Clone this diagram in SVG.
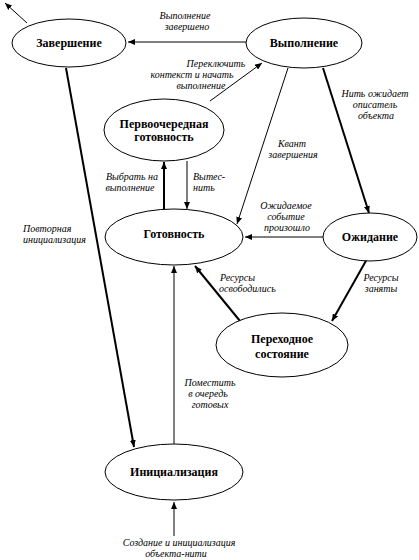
<svg xmlns="http://www.w3.org/2000/svg" width="419" height="560" viewBox="0 0 419 560">
<defs>
<marker id="arr" markerUnits="userSpaceOnUse" markerWidth="8" markerHeight="6" refX="7" refY="3" orient="auto">
<path d="M0,0 L7,3 L0,6 Z" fill="#000"/>
</marker>
</defs>
<style>
.node ellipse{fill:#fff;stroke:#000;stroke-width:1}
.node text{font-family:'Liberation Serif','DejaVu Serif','Times New Roman',serif;font-weight:bold;font-size:12px;text-anchor:middle;fill:#000}
.lbl{font-family:'Liberation Serif','DejaVu Serif','Times New Roman',serif;font-style:italic;font-size:10px;fill:#000}
.m{text-anchor:middle}
.c line{stroke:#000;stroke-width:1;marker-end:url(#arr)}
.c line.b{stroke-width:2}
</style>
<rect width="419" height="560" fill="#fff"/>
<g class="c" id="connectors">
<line x1="27" y1="23" x2="5" y2="3"/>
<line x1="246" y1="42" x2="128" y2="42"/>
<line x1="210" y1="101" x2="262" y2="63"/>
<line x1="288" y1="68" x2="237" y2="224"/>
<line class="b" x1="323" y1="68" x2="369" y2="213"/>
<line class="b" x1="164" y1="210" x2="164" y2="162"/>
<line x1="187" y1="161" x2="187" y2="209"/>
<line x1="323" y1="237" x2="245" y2="237"/>
<line class="b" x1="367" y1="259" x2="332" y2="321"/>
<line class="b" x1="240" y1="321" x2="195" y2="266"/>
<line x1="174" y1="444" x2="174" y2="266"/>
<line class="b" x1="66" y1="68" x2="134" y2="447"/>
<line x1="174" y1="536" x2="174" y2="502"/>
</g>
<g class="node" id="n-finish"><ellipse cx="69" cy="43" rx="57" ry="24"/><text x="69" y="47">Завершение</text></g>
<g class="node" id="n-run"><ellipse cx="304" cy="43" rx="58" ry="25"/><text x="304" y="47">Выполнение</text></g>
<g class="node" id="n-standby"><ellipse cx="164" cy="130" rx="60" ry="31"/><text x="164" y="128">Первоочередная</text><text x="164" y="141">готовность</text></g>
<g class="node" id="n-ready"><ellipse cx="174" cy="237" rx="69" ry="28"/><text x="174" y="238">Готовность</text></g>
<g class="node" id="n-wait"><ellipse cx="370" cy="237" rx="47" ry="24"/><text x="370" y="241">Ожидание</text></g>
<g class="node" id="n-trans"><ellipse cx="282" cy="345" rx="66" ry="32"/><text x="282" y="343">Переходное</text><text x="282" y="358">состояние</text></g>
<g class="node" id="n-init"><ellipse cx="174" cy="472" rx="69" ry="28"/><text x="174" y="476">Инициализация</text></g>
<g id="labels">
<text class="lbl m" x="185" y="19">Выполнение</text>
<text class="lbl m" x="187" y="30">завершено</text>
<text class="lbl m" x="216" y="67">Переключить</text>
<text class="lbl m" x="192" y="78">контекст и начать</text>
<text class="lbl m" x="201" y="89">выполнение</text>
<text class="lbl m" x="375" y="97">Нить ожидает</text>
<text class="lbl m" x="375" y="108">описатель</text>
<text class="lbl m" x="376" y="119">объекта</text>
<text class="lbl m" x="292" y="147">Квант</text>
<text class="lbl m" x="293" y="158">завершения</text>
<text class="lbl m" x="132" y="180">Выбрать на</text>
<text class="lbl m" x="130" y="191">выполнение</text>
<text class="lbl" x="193" y="180">Вытес-</text>
<text class="lbl" x="193" y="191">нить</text>
<text class="lbl m" x="286" y="209">Ожидаемое</text>
<text class="lbl m" x="286" y="220">событие</text>
<text class="lbl m" x="287" y="231">произошло</text>
<text class="lbl" x="23" y="232">Повторная</text>
<text class="lbl" x="23" y="243">инициализация</text>
<text class="lbl" x="220" y="281">Ресурсы</text>
<text class="lbl" x="219" y="292">освободились</text>
<text class="lbl m" x="381" y="281">Ресурсы</text>
<text class="lbl m" x="381" y="292">заняты</text>
<text class="lbl m" x="210" y="386">Поместить</text>
<text class="lbl m" x="208" y="397">в очередь</text>
<text class="lbl m" x="210" y="408">готовых</text>
<text class="lbl m" x="179" y="546">Создание и инициализация</text>
<text class="lbl m" x="176" y="557">объекта-нити</text>
</g>
</svg>
